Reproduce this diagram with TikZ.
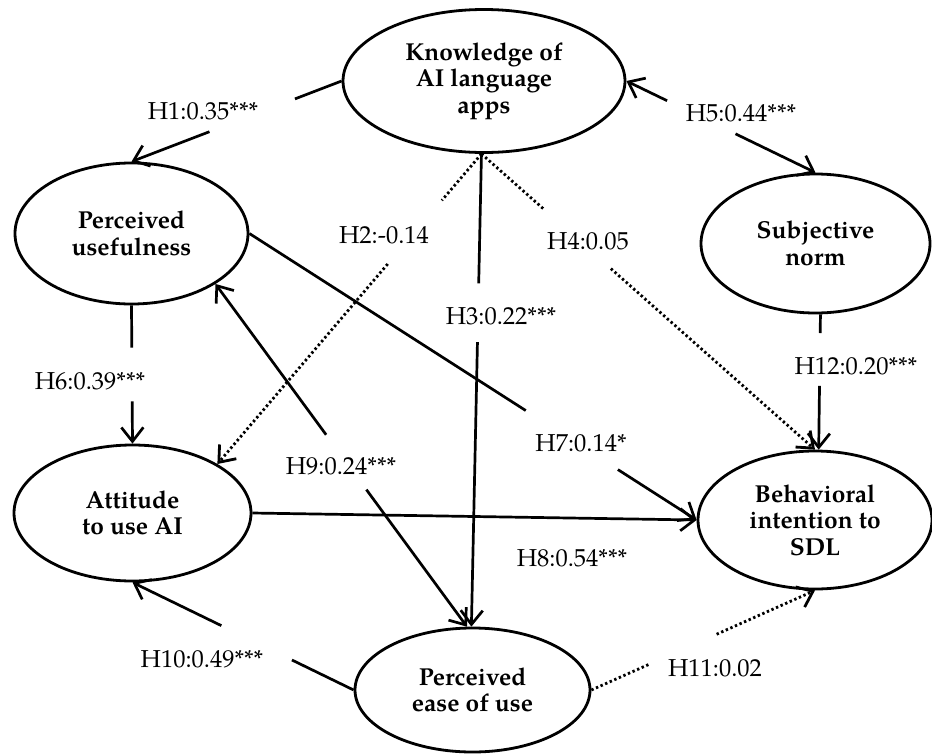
\documentclass[tikz,border=0pt]{standalone}
\usepackage{fontspec}
\setmainfont{texgyrepagella}[Extension=.otf, UprightFont=*-regular, BoldFont=*-bold, ItalicFont=*-italic, BoldItalicFont=*-bolditalic]
\usetikzlibrary{shapes.geometric, arrows.meta}

\tikzset{
  construct/.style={draw, ellipse, line width=2.8pt, inner sep=0pt, align=center,
    font=\fontsize{24.5}{26.5}\selectfont\bfseries},
  lbl/.style={inner sep=0pt, font=\fontsize{24.5}{26.5}\selectfont},
  conn/.style={line width=2.7pt},
  dotconn/.style={line width=2.8pt, dash pattern=on 2.4pt off 2.6pt},
  tip/.style={-{Straight Barb[length=14pt,width=22pt]}},
}

\begin{document}
\begin{tikzpicture}[x=1pt, y=-1pt]
\useasboundingbox (0,0) rectangle (932,753);

% constructs
\node[construct, minimum width=282pt, minimum height=143pt] (K) at (484,81) {Knowledge of\\AI language\\apps};
\node[construct, minimum width=233pt, minimum height=141pt] (PU) at (131.5,233.5) {Perceived\\usefulness};
\node[construct, minimum width=229pt, minimum height=139pt] (SN) at (815.5,243.5) {Subjective\\norm};
\node[construct, minimum width=237pt, minimum height=136pt] (AT) at (132.5,513) {Attitude\\to use AI};
\node[construct, minimum width=234pt, minimum height=138pt] (BI) at (815,520) {Behavioral\\intention to\\SDL};
\node[construct, minimum width=235pt, minimum height=124pt] (PE) at (472.5,690) {Perceived\\ease of use};

% gap coordinates
\path (K.west) -- (PU.north) coordinate[pos=0.222] (h1a) coordinate[pos=0.629] (h1b);
\path (K.east) -- (SN.north) coordinate[pos=0.215] (h5a) coordinate[pos=0.577] (h5b);
\path (K.268) -- (AT.30) coordinate[pos=0.15] (h2a) coordinate[pos=0.355] (h2b);
\path (K.268) -- (PE.91) coordinate[pos=0.274] (h3a) coordinate[pos=0.398] (h3b);
\path (K.268) -- (BI.north) coordinate[pos=0.187] (h4a) coordinate[pos=0.388] (h4b);
\path (SN.274) -- (BI.87) coordinate[pos=0.138] (h12a) coordinate[pos=0.529] (h12b);
\path (PU.south) -- (AT.north) coordinate[pos=0.305] (h6a) coordinate[pos=0.695] (h6b);
\path (PU.east) -- (BI.west) coordinate[pos=0.618] (h7a) coordinate[pos=0.824] (h7b);
\path (PU.329) -- (PE.95) coordinate[pos=0.44] (h9a) coordinate[pos=0.6] (h9b);
\path (PE.west) -- (AT.south) coordinate[pos=0.279] (h10a) coordinate[pos=0.598] (h10b);
\path (PE.east) -- (BI.south) coordinate[pos=0.258] (h11a) coordinate[pos=0.56] (h11b);

% H1
\draw[conn] (K.west) -- (h1a);
\draw[conn, tip] (h1b) -- (PU.north);
% H5
\draw[conn, tip] (h5a) -- (K.east);
\draw[conn, tip] (h5b) -- (SN.north);
% H2
\draw[dotconn] (K.268) -- (h2a);
\draw[dotconn, tip] (h2b) -- (AT.30);
% H3
\draw[conn] (K.268) -- (h3a);
\draw[conn, tip] (h3b) -- (PE.91);
% H4
\draw[dotconn] (K.268) -- (h4a);
\draw[dotconn, tip] (h4b) -- (BI.north);
% H12
\draw[conn] (SN.274) -- (h12a);
\draw[conn, tip] (h12b) -- (BI.87);
% H6
\draw[conn] (PU.south) -- (h6a);
\draw[conn, tip] (h6b) -- (AT.north);
% H7
\draw[conn] (PU.east) -- (h7a);
\draw[conn, tip] (h7b) -- (BI.west);
% H8
\draw[conn, tip] (AT.east) -- (BI.west);
% H9
\draw[conn, tip] (h9a) -- (PU.329);
\draw[conn, tip] (h9b) -- (PE.95);
% H10
\draw[conn] (PE.west) -- (h10a);
\draw[conn, tip] (h10b) -- (AT.south);
% H11
\draw[dotconn] (PE.east) -- (h11a);
\draw[dotconn, tip] (h11b) -- (BI.south);

% labels
\node[lbl] (l1) at (203,111) {H1:0.35***};
\node[lbl] (l5) at (741,113) {H5:0.44***};
\node[lbl] (l2) at (384,235) {H2:-0.14};
\node[lbl] (l4) at (588,241) {H4:0.05};
\node[lbl] (l3) at (501,316) {H3:0.22***};
\node[lbl] (l12) at (856,366) {H12:0.20***};
\node[lbl] (l6) at (90,381) {H6:0.39***};
\node[lbl] (l7) at (581,443) {H7:0.14*};
\node[lbl] (l8) at (572,558) {H8:0.54***};
\node[lbl] (l9) at (341,466) {H9:0.24***};
\node[lbl] (l10) at (202,659) {H10:0.49***};
\node[lbl] (l11) at (715,668) {H11:0.02};
\end{tikzpicture}
\end{document}
